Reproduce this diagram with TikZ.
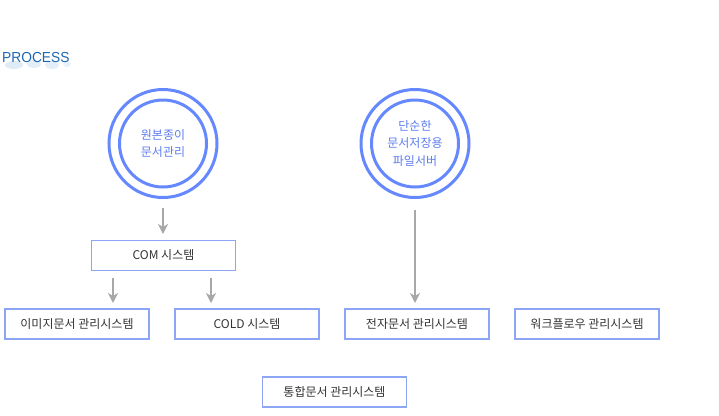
\documentclass[tikz,border=0pt]{standalone}
\usepackage{fontspec}
\setmainfont{Noto Sans CJK KR}
\newfontfamily\latinsans{Liberation Sans}
\usetikzlibrary{arrows.meta}
\definecolor{ringblue}{HTML}{6688FF}
\definecolor{ringtext}{HTML}{5C7CF0}
\definecolor{boxline}{HTML}{8CA6F5}
\definecolor{boxtext}{HTML}{333333}
\definecolor{arrowgray}{HTML}{A8A8A8}
\definecolor{titleblue}{HTML}{1B66B1}
\definecolor{blobblue}{HTML}{C9DDF2}
\tikzset{
  x=1bp, y=-1bp,
  outerring/.style={circle, draw=ringblue, line width=3bp, minimum size=108bp, inner sep=0pt},
  innerring/.style={circle, draw=ringblue, line width=3bp, minimum size=87bp, inner sep=0pt,
    text=ringtext, font=\fontsize{12bp}{17.5bp}\selectfont, align=center},
  sysbox/.style={rectangle, draw=boxline, line width=1.3bp, minimum width=144bp, minimum height=30bp,
    inner sep=0pt, text=boxtext, font=\fontsize{12bp}{13bp}\selectfont},
  flow/.style={draw=arrowgray, line width=2bp, -{Stealth[length=10bp, width=10bp, inset=3bp]}},
}
\begin{document}
\begin{tikzpicture}
\useasboundingbox (0,0) rectangle (719,415);
% title with soft blobs
\fill[blobblue, opacity=0.6] (14,65) ellipse (9 and 4);
\fill[blobblue, opacity=0.5] (34,64) ellipse (7 and 4);
\fill[blobblue, opacity=0.5] (52,65) ellipse (7 and 4);
\fill[blobblue, opacity=0.4] (67,64) ellipse (4 and 3);
\node[anchor=base west, inner sep=0pt, text=titleblue, font=\latinsans\fontsize{14.5bp}{15bp}\selectfont, xscale=0.95] (title) at (2,62) {PROCESS};
% rings
\node[outerring] (r1o) at (163,143.5) {};
\node[innerring] (r1) at (163,143.5) {원본종이\\문서관리};
\node[outerring] (r2o) at (415,143.5) {};
\node[innerring] (r2) at (415,143.5) {단순한\\문서저장용\\파일서버};
% boxes
\node[sysbox] (com) at (163.5,255.5) {COM 시스템};
\node[sysbox] (img) at (77,324) {이미지문서 관리시스템};
\node[sysbox] (cold) at (247,324) {COLD 시스템};
\node[sysbox] (edms) at (417,324) {전자문서 관리시스템};
\node[sysbox] (wf) at (587,324) {워크플로우 관리시스템};
\node[sysbox] (int) at (334.5,392) {통합문서 관리시스템};
% arrows
\coordinate (a1s) at (163,208);
\coordinate (a1e) at (163,234);
\draw[flow] (a1s) -- (a1e);
\coordinate (a2s) at (113,278);
\coordinate (a2e) at (113,303);
\draw[flow] (a2s) -- (a2e);
\coordinate (a3s) at (211,278);
\coordinate (a3e) at (211,303);
\draw[flow] (a3s) -- (a3e);
\coordinate (a4s) at (415,210);
\coordinate (a4e) at (415,303);
\draw[flow] (a4s) -- (a4e);
\end{tikzpicture}
\end{document}
